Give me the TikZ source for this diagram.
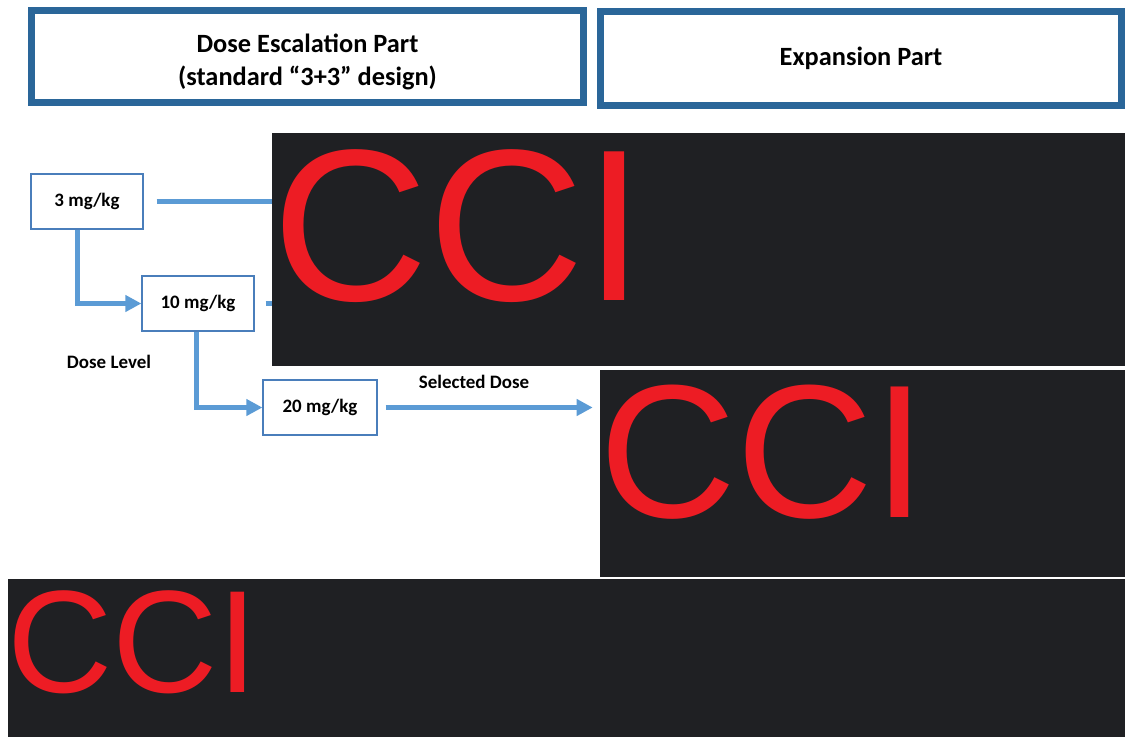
\documentclass[tikz,border=0pt]{standalone}
\usepackage{fontspec}
\setmainfont{Carlito}
\newfontfamily\ccifont{Liberation Sans}
\usetikzlibrary{arrows.meta,positioning}
\definecolor{headblue}{RGB}{42,102,153}
\definecolor{boxblue}{RGB}{74,126,187}
\definecolor{arrowblue}{RGB}{91,155,213}
\definecolor{redact}{RGB}{31,32,35}
\definecolor{ccired}{RGB}{237,28,36}

\begin{document}
\begin{tikzpicture}[x=0.02cm,y=-0.02cm,
  head/.style={draw=headblue,line width=0.14cm,fill=white,align=center,font=\bfseries\fontsize{15}{19}\selectfont},
  dose/.style={draw=boxblue,line width=0.7pt,minimum width=2.24cm,minimum height=1.1cm,font=\bfseries\fontsize{10.8}{12}\selectfont},
  lab/.style={font=\bfseries\fontsize{10.8}{12}\selectfont},
  flow/.style={draw=arrowblue,line width=0.1cm},
  tip/.style={-{Triangle[length=0.32cm,width=0.32cm]}},
  cover/.style={fill=redact,inner sep=0pt},
  cci/.style={text=ccired,inner sep=0pt,anchor=base west}]
\useasboundingbox (0,0) rectangle (1125,737);
% header boxes
\node[head,minimum width=11.04cm,minimum height=1.84cm] (esc) at (307.5,56.5) {\rule{0pt}{17pt}Dose Escalation Part\\(standard ``3+3'' design)};
\node[head,minimum width=10.42cm,minimum height=1.88cm] (exp) at (861,58.5) {Expansion Part};
% redacted areas
\node[cover,minimum width=17.06cm,minimum height=4.66cm] (blk1) at (698.5,249.5) {};
\node[cover,minimum width=10.5cm,minimum height=4.14cm] (blk2) at (862.5,473.5) {};
\node[cover,minimum width=22.34cm,minimum height=3.16cm] (blk3) at (566.5,658) {};
\node[cci,font=\ccifont\fontsize{123}{130}\selectfont] (cci1) at (272,300) {CCI};
\node[cci,font=\ccifont\fontsize{108}{114}\selectfont] (cci2) at (599,517) {CCI};
\node[cci,font=\ccifont\fontsize{83}{89}\selectfont] (cci3) at (7,692) {CCI};
% dose levels
\node[dose] (d3) at (87,201.5) {3 mg/kg};
\node[dose] (d10) at (198,303.5) {10 mg/kg};
\node[dose,minimum width=2.28cm] (d20) at (320,407.5) {20 mg/kg};
\node[lab] (lvl) at (109,362) {Dose Level};
\node[lab] (sel) at (474,382) {Selected Dose};
% connectors
\draw[flow,tip] ([xshift=-0.2cm]d3.south) |- (d10.west);
\draw[flow,tip] ([xshift=-0.04cm]d10.south) |- (d20.west);
\draw[flow] ([xshift=0.26cm]d3.east) -- (blk1.west |- d3.east);
\draw[flow] ([xshift=0.22cm]d10.east) -- (blk1.west |- d10.east);
\draw[flow,tip] ([xshift=0.16cm]d20.east) -- ([xshift=-0.14cm]blk2.west |- d20.east);
\end{tikzpicture}
\end{document}
